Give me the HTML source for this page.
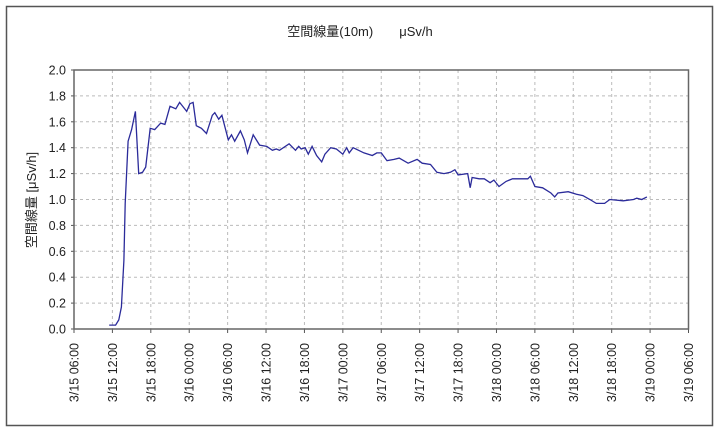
<!DOCTYPE html>
<html><head><meta charset="utf-8"><style>
body{margin:0;background:#fff;}
svg{display:block;font-family:"Liberation Sans","Noto Sans CJK JP",sans-serif;}
</style></head><body>
<svg id="chart" width="720" height="432" viewBox="0 0 720 432">
<rect x="6.5" y="6.5" width="706" height="419" fill="#fff" stroke="#555" stroke-width="1.5"/>
<text x="360" y="36" text-anchor="middle" font-size="13" fill="#222">空間線量(10m)　　μSv/h</text>
<text transform="translate(36,200) rotate(-90)" text-anchor="middle" font-size="13" fill="#222">空間線量 [μSv/h]</text>
<g id="grid"></g><g id="axes"></g><g id="series"></g>
</svg>
<script>
const xTickLabels=["3/15 06:00","3/15 12:00","3/15 18:00","3/16 00:00","3/16 06:00","3/16 12:00","3/16 18:00","3/17 00:00","3/17 06:00","3/17 12:00","3/17 18:00","3/18 00:00","3/18 06:00","3/18 12:00","3/18 18:00","3/19 00:00","3/19 06:00"];
const yTicks=[0,0.2,0.4,0.6,0.8,1.0,1.2,1.4,1.6,1.8,2.0];
const hours=[5.5,6.5,7.0,7.4,7.8,8.0,8.45,9.0,9.6,10.1,10.7,11.2,11.9,12.6,13.55,14.2,15.0,15.9,16.5,17.6,18.1,18.6,19.1,19.9,20.7,21.6,22.0,22.6,23.1,24.1,24.6,25.1,26.0,26.6,27.1,28.0,29.0,30.1,31.0,31.6,32.1,33.6,34.6,35.1,35.5,36.1,36.6,37.2,37.9,38.7,39.2,40.1,41.0,42.0,42.6,43.0,43.6,45.3,46.6,47.3,48.0,48.9,50.0,50.8,52.2,53.6,54.4,55.7,56.7,57.8,58.8,59.5,60.0,61.5,61.9,62.2,63.3,64.1,65.0,65.6,66.4,67.5,68.5,70.9,71.3,72.0,73.2,74.5,75.1,75.6,77.2,78.5,79.5,80.6,81.6,82.9,83.7,85.8,87.4,87.9,88.7,89.5];
const doseValues=[0.03,0.03,0.07,0.17,0.53,0.97,1.45,1.54,1.68,1.20,1.21,1.25,1.55,1.54,1.59,1.58,1.72,1.70,1.75,1.68,1.74,1.75,1.57,1.55,1.51,1.65,1.67,1.62,1.65,1.46,1.50,1.45,1.53,1.46,1.36,1.50,1.42,1.41,1.38,1.39,1.38,1.43,1.38,1.41,1.39,1.40,1.35,1.41,1.34,1.29,1.35,1.40,1.39,1.35,1.40,1.36,1.40,1.36,1.34,1.36,1.36,1.30,1.31,1.32,1.28,1.31,1.28,1.27,1.21,1.20,1.21,1.23,1.19,1.20,1.09,1.17,1.16,1.16,1.13,1.15,1.10,1.14,1.16,1.16,1.18,1.10,1.09,1.05,1.02,1.05,1.06,1.04,1.03,1.00,0.97,0.97,1.00,0.99,1.00,1.01,1.00,1.02];
const L=74,R=688.5,T=70,B=329,HMAX=96,VMAX=2;
const xs=h=>L+h*(R-L)/HMAX, ys=v=>B-v*(B-T)/VMAX;
const NS="http://www.w3.org/2000/svg";
function mk(tag,attrs,parent){const e=document.createElementNS(NS,tag);for(const k in attrs)e.setAttribute(k,attrs[k]);parent.appendChild(e);return e;}
const grid=document.getElementById('grid'),axes=document.getElementById('axes'),series=document.getElementById('series');
yTicks.forEach(v=>{
  if(v>0&&v<VMAX){const g=mk('line',{x1:L,x2:R,y1:ys(v),y2:ys(v),stroke:'#bbb','stroke-dasharray':'3,3'},grid);
  
  }
  const t=mk('text',{x:L-8,y:ys(v)+4.5,'text-anchor':'end','font-size':'12.5',fill:'#222'},axes);t.textContent=v.toFixed(1);
  
  
  const tk=mk('line',{x1:L-3,x2:L,y1:ys(v),y2:ys(v),stroke:'#555'},axes);
  
  
});
xTickLabels.forEach((lab,i)=>{
  const x=xs(i*6);
  if(i>0&&i<xTickLabels.length-1){const g=mk('line',{x1:x,x2:x,y1:T,y2:B,stroke:'#bbb','stroke-dasharray':'3,3'},grid);
  
  }
  const tk=mk('line',{x1:x,x2:x,y1:B,y2:B+4,stroke:'#555'},axes);
  
  
  const t=mk('text',{transform:`translate(${x+4.5},343) rotate(-90)`,'text-anchor':'end','font-size':'12.5',fill:'#222'},axes);t.textContent=lab;
  
  
});
const pa=mk('rect',{x:L,y:T,width:R-L,height:B-T,fill:'none',stroke:'#666','stroke-width':1.5},axes);


const pts=hours.map((h,i)=>xs(h).toFixed(1)+','+ys(doseValues[i]).toFixed(1)).join(' ');
const line=mk('polyline',{points:pts,fill:'none',stroke:'#2b2b9a','stroke-width':1.3},series);


</script>
</body></html>
